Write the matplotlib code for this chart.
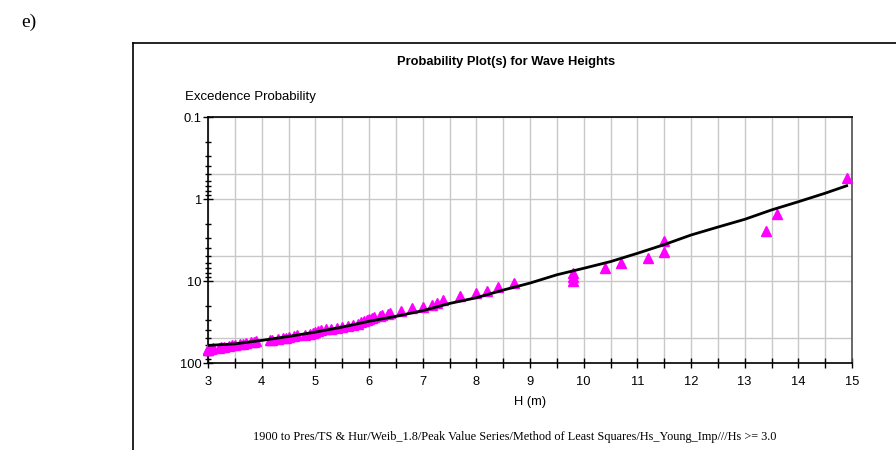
import matplotlib
matplotlib.use("Agg")
import matplotlib.pyplot as plt
from matplotlib.lines import Line2D
from matplotlib.ticker import FixedLocator, LogLocator, NullFormatter

# ---- data ----
pt_h = [14.9, 13.6, 13.4, 11.5, 11.5, 11.2, 10.7, 10.4, 9.8, 9.8, 9.8, 8.7, 8.4, 8.2, 8.0, 7.7,
        7.38, 7.27, 7.18, 7.0, 6.8, 6.6, 6.4, 6.35, 6.25, 6.2, 6.1, 6.05, 6.0,
        5.97, 5.9, 5.85, 5.8, 5.7, 5.6, 5.5, 5.4, 5.3, 5.2, 5.1, 5.05, 5.0, 4.95, 4.9, 4.8,
        4.65, 4.6, 4.5, 4.45, 4.4, 4.3, 4.2, 4.15, 3.9, 3.85, 3.8, 3.7, 3.65, 3.6, 3.5,
        3.45, 3.4, 3.3, 3.25, 3.2, 3.1, 3.05, 3.0, 3.0, 3.0]
pt_p = [0.55, 1.52, 2.46, 3.25, 4.4, 5.25, 6.0, 6.9, 8.0, 9.0, 10.0, 10.6, 11.8, 13.2, 14.0, 15.2,
        17.1, 18.5, 19.6, 20.5, 21.5, 23.0, 24.5, 25.3, 26.0, 26.8, 27.5, 28.5, 29.2,
        30, 31, 32, 33, 34, 35, 36, 37, 38, 39, 40, 41, 42, 43, 44, 45,
        46, 47, 48, 49, 50, 51, 52, 53, 54, 55, 56, 57, 58, 59, 60,
        61, 62, 63, 64, 65, 66, 67, 68, 69, 70]

fit_h = [3.0, 3.5, 4.0, 4.5, 5.0, 5.5, 6.0, 6.5, 7.0, 7.5, 8.0, 8.5, 9.0, 9.5, 10.0,
         10.5, 11.0, 11.5, 12.0, 12.5, 13.0, 13.5, 14.0, 14.5, 14.9]
fit_p = [61, 58.5, 53, 47.5, 42, 36.5, 31, 27, 23, 18.8, 16.0, 12.9, 10.6, 8.4, 7.0,
         5.8, 4.6, 3.6, 2.75, 2.2, 1.77, 1.36, 1.08, 0.85, 0.69]

x_ticks = [3, 4, 5, 6, 7, 8, 9, 10, 11, 12, 13, 14, 15]
y_ticks = [0.1, 1, 10, 100]
y_tick_labels = ["0.1", "1", "10", "100"]
y_grid = [0.1, 0.5, 1, 5, 10, 50, 100]

title = "Probability Plot(s) for Wave Heights"
ylabel = "Excedence Probability"
xlabel = "H (m)"
footer = "1900 to Pres/TS & Hur/Weib_1.8/Peak Value Series/Method of Least Squares/Hs_Young_Imp///Hs >= 3.0"

W, H = 896, 450
fig = plt.figure(figsize=(W / 100, H / 100), dpi=100)
fig.patch.set_facecolor("white")

sans = ["Liberation Sans", "DejaVu Sans"]
serif = ["Liberation Serif", "DejaVu Serif"]

left, right, top, bottom = 208, 852, 117, 363
ax = fig.add_axes([left / W, 1 - bottom / H, (right - left) / W, (bottom - top) / H])

ax.set_yscale("log")
ax.set_xlim(3, 15)
ax.set_ylim(100, 0.1)

# grid
for g in y_grid:
    ax.axhline(g, color="#c8c8c8", lw=1.0, zorder=0)
xg = 3.0
while xg <= 15.0001:
    ax.axvline(xg, color="#c8c8c8", lw=1.0, zorder=0)
    xg += 0.5

ax.plot(pt_h, pt_p, linestyle="none", marker="^", markersize=7,
        color="#ff00ff", markeredgecolor="#ff00ff", zorder=3, clip_on=False)
ax.plot(fit_h, fit_p, color="black", lw=2.0, zorder=4)

ax.xaxis.set_major_locator(FixedLocator(x_ticks))
ax.xaxis.set_minor_locator(FixedLocator([x + 0.5 for x in x_ticks[:-1]]))
ax.set_xticklabels([str(x) for x in x_ticks], fontfamily=sans, fontsize=9.3)
ax.yaxis.set_major_locator(FixedLocator(y_ticks))
ax.set_yticklabels(y_tick_labels, fontfamily=sans, fontsize=9.3)
ax.yaxis.set_minor_locator(LogLocator(base=10, subs=[2, 3, 4, 5, 6, 7, 8, 9]))
ax.yaxis.set_minor_formatter(NullFormatter())

ax.tick_params(axis="both", which="major", direction="inout", length=7, width=1, color="black")
ax.tick_params(axis="x", which="major", pad=6)
ax.tick_params(axis="y", which="major", pad=1)
ax.tick_params(axis="both", which="minor", direction="inout", length=5, width=1, color="black")
ax.tick_params(axis="x", which="minor", length=7)
ax.tick_params(axis="both", labelcolor="black")

for s in ["left", "bottom", "top"]:
    ax.spines[s].set_color("black")
    ax.spines[s].set_linewidth(1.2)
ax.spines["right"].set_color("#505050")
ax.spines["right"].set_linewidth(1.2)

# texts
fig.text(506 / W, 1 - 62 / H, title, ha="center", va="center", fontfamily=sans,
         fontsize=9.3, fontweight="bold")
fig.text(185 / W, 1 - 97 / H, ylabel, ha="left", va="center", fontfamily=sans, fontsize=9.5)
fig.text(530 / W, 1 - 402 / H, xlabel, ha="center", va="center", fontfamily=sans, fontsize=9.3)
fig.text(515 / W, 1 - 437 / H, footer, ha="center", va="center", fontfamily=serif, fontsize=8.8)
fig.text(21 / W, 1 - 22 / H, "e)", ha="left", va="center", fontfamily=serif, fontsize=14)

# frame around chart
fig.add_artist(Line2D([133 / W, 133 / W], [0, 1 - 43 / H], color="black", lw=1.2,
                      transform=fig.transFigure))
fig.add_artist(Line2D([133 / W, 1.0], [1 - 43 / H, 1 - 43 / H], color="black", lw=1.2,
                      transform=fig.transFigure))

fig.savefig("out.png", dpi=100)
